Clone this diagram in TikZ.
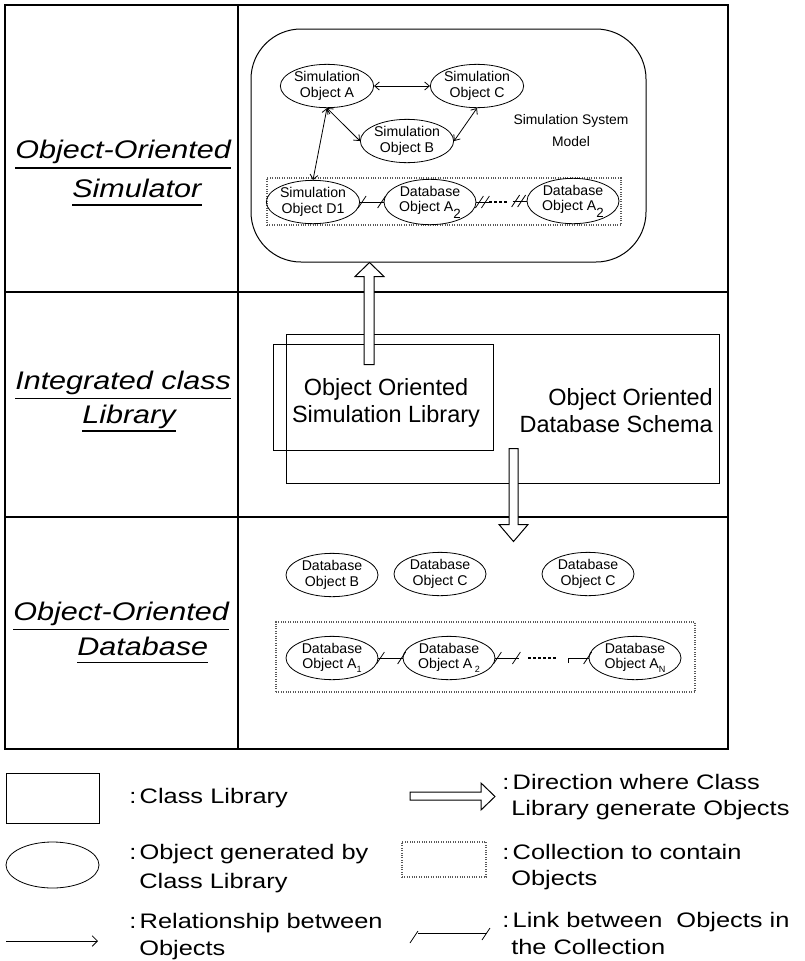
\documentclass[tikz,border=0pt]{standalone}
\usepackage{fontspec}
\setmainfont{Liberation Sans}
\newfontfamily\lblfont[FakeStretch=1.2]{Liberation Sans}
\newfontfamily\legfont[FakeStretch=1.21]{Liberation Sans}
\usetikzlibrary{arrows.meta,shapes.geometric,calc}
\newcommand\lowsubA[1]{\raisebox{-0.45em}{\fontsize{10pt}{10pt}\selectfont #1}}
\newcommand\lowsubB[1]{\raisebox{-0.3em}{\fontsize{6.8pt}{6.8pt}\selectfont #1}}
\newcommand\lnkslash[1]{\draw[line width=0.6pt] ($(#1)+(-4,6)$) -- ($(#1)+(4,-6)$);}
\tikzset{
 tablerule/.style={line width=1.5pt},
 side/.style={font=\lblfont\itshape\fontsize{19.1pt}{23pt}\selectfont, anchor=base west, inner sep=0pt},
 uline/.style={line width=1.1pt},
 obj/.style={ellipse, draw, line width=0.6pt, minimum width=69pt, minimum height=32.5pt, inner sep=0pt, align=center, font=\fontsize{10.6pt}{11.6pt}\selectfont},
 coll/.style={draw=black!65, densely dotted, line width=0.8pt, inner sep=0pt},
 lib/.style={draw, line width=0.75pt, inner sep=0pt},
 rel/.style={line width=0.6pt, {Straight Barb[length=3.5pt,width=6pt]}-{Straight Barb[length=3.5pt,width=6pt]}},
 lnkline/.style={line width=0.6pt},
 dotline/.style={line width=2pt, dash pattern=on 2.2pt off 1.5pt},
 hollow/.style={draw, fill=white, line width=0.75pt, line join=miter},
 midtext/.style={font=\fontsize{17.6pt}{20.25pt}\selectfont, inner sep=0pt},
 legtext/.style={font=\legfont\fontsize{15.75pt}{20pt}\selectfont, anchor=base west, inner sep=0pt},
}
\begin{document}
\begin{tikzpicture}[x=0.75pt,y=-0.75pt]
\useasboundingbox (0,0) rectangle (804,961);
% ---------- table ----------
\draw[tablerule] (5,5) rectangle (728,749);
\draw[tablerule] (238,5) -- (238,749);
\draw[tablerule] (5,292) -- (728,292);
\draw[tablerule] (5,517) -- (728,517);
% ---------- side labels ----------
\node[side] (s1) at (15,158) {Object-Oriented};
\node[side] (s2) at (72,197) {Simulator};
\node[side] (i1) at (15,389) {Integrated class};
\node[side] (i2) at (82,423) {Library};
\node[side] (d1) at (13,620) {Object-Oriented};
\node[side] (d2) at (77,655) {Database};
\foreach \n/\o in {s1/7.5pt, s2/6pt, i1/7pt, i2/6pt, d1/7pt, d2/5.5pt}
  \draw[uline] ([yshift=-\o]\n.base west) -- ([yshift=-\o]\n.base east);
% ---------- simulation system model ----------
\node[lib, rounded corners=37.5pt, minimum width=296.25pt, minimum height=174.75pt] (sim) at (448.5,145.5) {};
\node[coll, minimum width=265.5pt, minimum height=35.25pt] (scoll) at (444,201.5) {};
\node[obj] (sa) at (327,86) {Simulation\\Object A};
\node[obj] (sc) at (477,86) {Simulation\\Object C};
\node[obj] (sb) at (407,141) {Simulation\\Object B};
\node[obj] (sd) at (313,202) {Simulation\\Object D1};
\node[obj] (sa2) at (430,202) {Database\\Object A\lowsubA{2}};
\node[obj] (sa3) at (573,201) {Database\\Object A\lowsubA{2}};
\node[font=\fontsize{10.4pt}{16.5pt}\selectfont, align=center, inner sep=0pt] (ssm) at (571,131) {Simulation System\\Model};
\draw[rel] (sa.east) -- (sc.west);
\draw[rel] (sa.south) -- (sb.west);
\draw[rel] (sc.south) -- (sb.east);
\draw[rel] (sa.south) -- (sd.north);
% links in the simulation collection
\draw[lnkline] (sd.east) -- (sa2.west);
\lnkslash{$(sd.east)+(2,0)$}
\lnkslash{$(sa2.west)+(-2,0)$}
\draw[lnkline] (sa2.east) -- ($(sa2.east)+(13,0)$) coordinate (k1);
\lnkslash{$(sa2.east)+(3,0)$}
\lnkslash{$(sa2.east)+(9,0)$}
\draw[dotline] (k1) -- ++(18,0);
\draw[lnkline] ($(sa3.west)+(-14,0)$) -- (sa3.west);
\lnkslash{$(sa3.west)+(-11,0)$}
\lnkslash{$(sa3.west)+(-5,0)$}
% ---------- integrated class library ----------
\node[lib, minimum width=324.75pt, minimum height=111.75pt] (schema) at (502.5,408.5) {};
\node[lib, minimum width=165pt, minimum height=79.5pt] (simlib) at (383,397) {};
\node[midtext, align=center] (simlibt) at (386,403) {Object Oriented\\Simulation Library};
\node[midtext, align=right, anchor=east] (schemat) at (713,411) {Object Oriented\\Database Schema};
% hollow arrows
\path (sim.south) ++(-79,0) coordinate (uptip);
\draw[hollow] (uptip) -- ++(14.5,14) -- ++(-10,0) -- ++(0,88) -- ++(-10,0) -- ++(0,-88) -- ++(-9,0) -- cycle;
\path (schema.south) ++(11,58) coordinate (dntip);
\draw[hollow] (dntip) -- ++(14.5,-17) -- ++(-10,0) -- ++(0,-76) -- ++(-9,0) -- ++(0,76) -- ++(-10,0) -- cycle;
% ---------- object-oriented database ----------
\node[obj] (db1) at (332,575) {Database\\Object B};
\node[obj] (db2) at (440,574) {Database\\Object C};
\node[obj] (db3) at (588,574) {Database\\Object C};
\node[coll, minimum width=314.25pt, minimum height=52.5pt] (dcoll) at (485.5,657) {};
\node[obj] (da1) at (332,658) {Database\\Object A\lowsubB{1}};
\node[obj] (da2) at (449,658) {Database\\Object A\,\lowsubB{2}};
\node[obj] (dan) at (635,658) {Database\\Object A\lowsubB{N}};
\draw[lnkline] (da1.east) -- (da2.west);
\lnkslash{$(da1.east)+(2,0)$}
\lnkslash{$(da2.west)+(-1,0)$}
\draw[lnkline] (da2.east) -- ++(24,0) coordinate (m1);
\lnkslash{$(da2.east)+(2,0)$}
\lnkslash{$(m1)+(-3,0)$}
\draw[dotline] ($(m1)+(9,0)$) -- ++(28,0);
\draw[lnkline] ($(dan.west)+(-20,0)$) coordinate (m2) -- (dan.west);
\draw[lnkline] (m2) -- ++(0,5);
\lnkslash{$(dan.west)+(-1,0)$}
% ---------- legend ----------
\node[lib, minimum width=69.75pt, minimum height=37.5pt] (Lrect) at (52.5,798) {};
\node[legtext] (Lt1) at (129,803) {:\hspace{2.5pt}Class Library};
\node[obj, minimum width=69.75pt, minimum height=34.5pt] (Lell) at (52.5,865) {};
\node[legtext] (Lt2) at (129,859) {:\hspace{2.5pt}Object generated by};
\node[legtext] (Lt2b) at (139,888) {Class Library};
\coordinate (La) at (6,941);
\coordinate (Lb) at (98,941);
\draw[line width=0.6pt, -{Straight Barb[length=4pt,width=8pt]}] (La) -- (Lb);
\node[legtext] (Lt3) at (129,928) {:\hspace{2.5pt}Relationship between};
\node[legtext] (Lt3b) at (139,955) {Objects};
\coordinate (Ha) at (410,796);
\draw[hollow] (Ha) -- ++(0,-4) -- ++(71,0) -- ++(0,-9) -- ++(14,13.5) -- ++(-14,13.5) -- ++(0,-10) -- ++(-71,0) -- cycle;
\node[legtext] (Rt1) at (502,789) {:\hspace{2.5pt}Direction where Class};
\node[legtext] (Rt1b) at (511,815) {Library generate Objects};
\node[coll, minimum width=63pt, minimum height=26.25pt] (Lcoll) at (444,859.5) {};
\node[legtext] (Rt2) at (502,859) {:\hspace{2.5pt}Collection to contain};
\node[legtext] (Rt2b) at (511,885) {Objects};
\coordinate (Lc) at (418,933);
\coordinate (Ld) at (487,933);
\draw[lnkline] (Lc) -- (Ld);
\lnkslash{$(Lc)+(-4,4)$}
\lnkslash{$(Ld)+(-1,1)$}
\node[legtext] (Rt3) at (502,927) {:\hspace{2.5pt}Link between\ \ Objects in};
\node[legtext] (Rt3b) at (511,954) {the Collection};
\end{tikzpicture}
\end{document}
